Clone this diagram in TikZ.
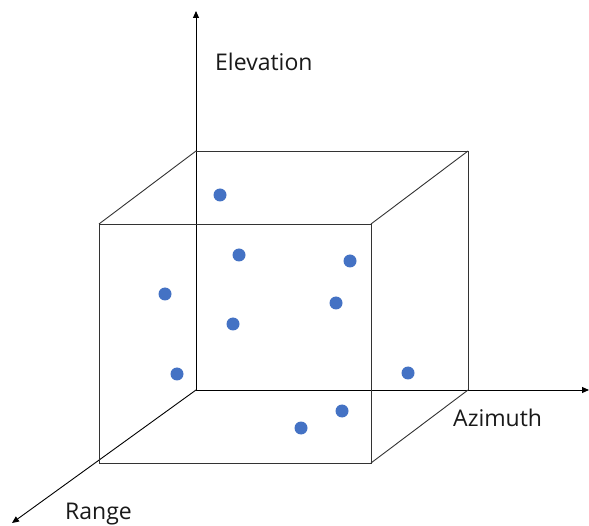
\documentclass[tikz,border=0pt]{standalone}
\usepackage{fontspec}
\setmainfont{Open Sans}
\usetikzlibrary{arrows.meta}
\definecolor{dotblue}{HTML}{4472C4}
\begin{document}
\begin{tikzpicture}[x=1pt,y=-1pt,
  edge/.style={draw=black!80,line width=0.9pt},
  axis/.style={draw=black,line width=0.9pt,-{Triangle[length=7pt,width=6pt]}},
  pt/.style={circle,fill=dotblue,inner sep=0pt,minimum size=13pt},
  lab/.style={font=\fontsize{23}{27}\selectfont,text=black!90,inner sep=0pt}]
\useasboundingbox (0,0) rectangle (589,526);
% cube corners
\coordinate (O) at (196,390);
\coordinate (B1) at (196,151);
\coordinate (B2) at (468,151);
\coordinate (B3) at (468,390);
\coordinate (F1) at (99,224);
\coordinate (F2) at (371,224);
\coordinate (F3) at (371,463);
\coordinate (F4) at (99,463);
\coordinate (Etip) at (196,11);
\coordinate (Atip) at (589,390);
\coordinate (Rtip) at (12,523);
% axes
\draw[axis] (O) -- (Etip);
\draw[axis] (O) -- (Atip);
\draw[axis] (O) -- (Rtip);
% cube edges
\draw[edge] (B1) -- (B2) -- (B3);
\draw[edge] (F1) -- (F2) -- (F3) -- (F4) -- cycle;
\draw[edge] (B1) -- (F1);
\draw[edge] (B2) -- (F2);
\draw[edge] (B3) -- (F3);
% points
\node[pt] (p1) at (220,195) {};
\node[pt] (p2) at (239,255) {};
\node[pt] (p3) at (350,261) {};
\node[pt] (p4) at (165,294) {};
\node[pt] (p5) at (336,303) {};
\node[pt] (p6) at (233,324) {};
\node[pt] (p7) at (177,374) {};
\node[pt] (p8) at (408,373) {};
\node[pt] (p9) at (342,411) {};
\node[pt] (p10) at (301,428) {};
% labels
\node[lab,anchor=base west] (le) at (215,71) {Elevation};
\node[lab,anchor=base west] (la) at (453,427) {Azimuth};
\node[lab,anchor=base west] (lr) at (65,519) {Range};
\end{tikzpicture}
\end{document}
